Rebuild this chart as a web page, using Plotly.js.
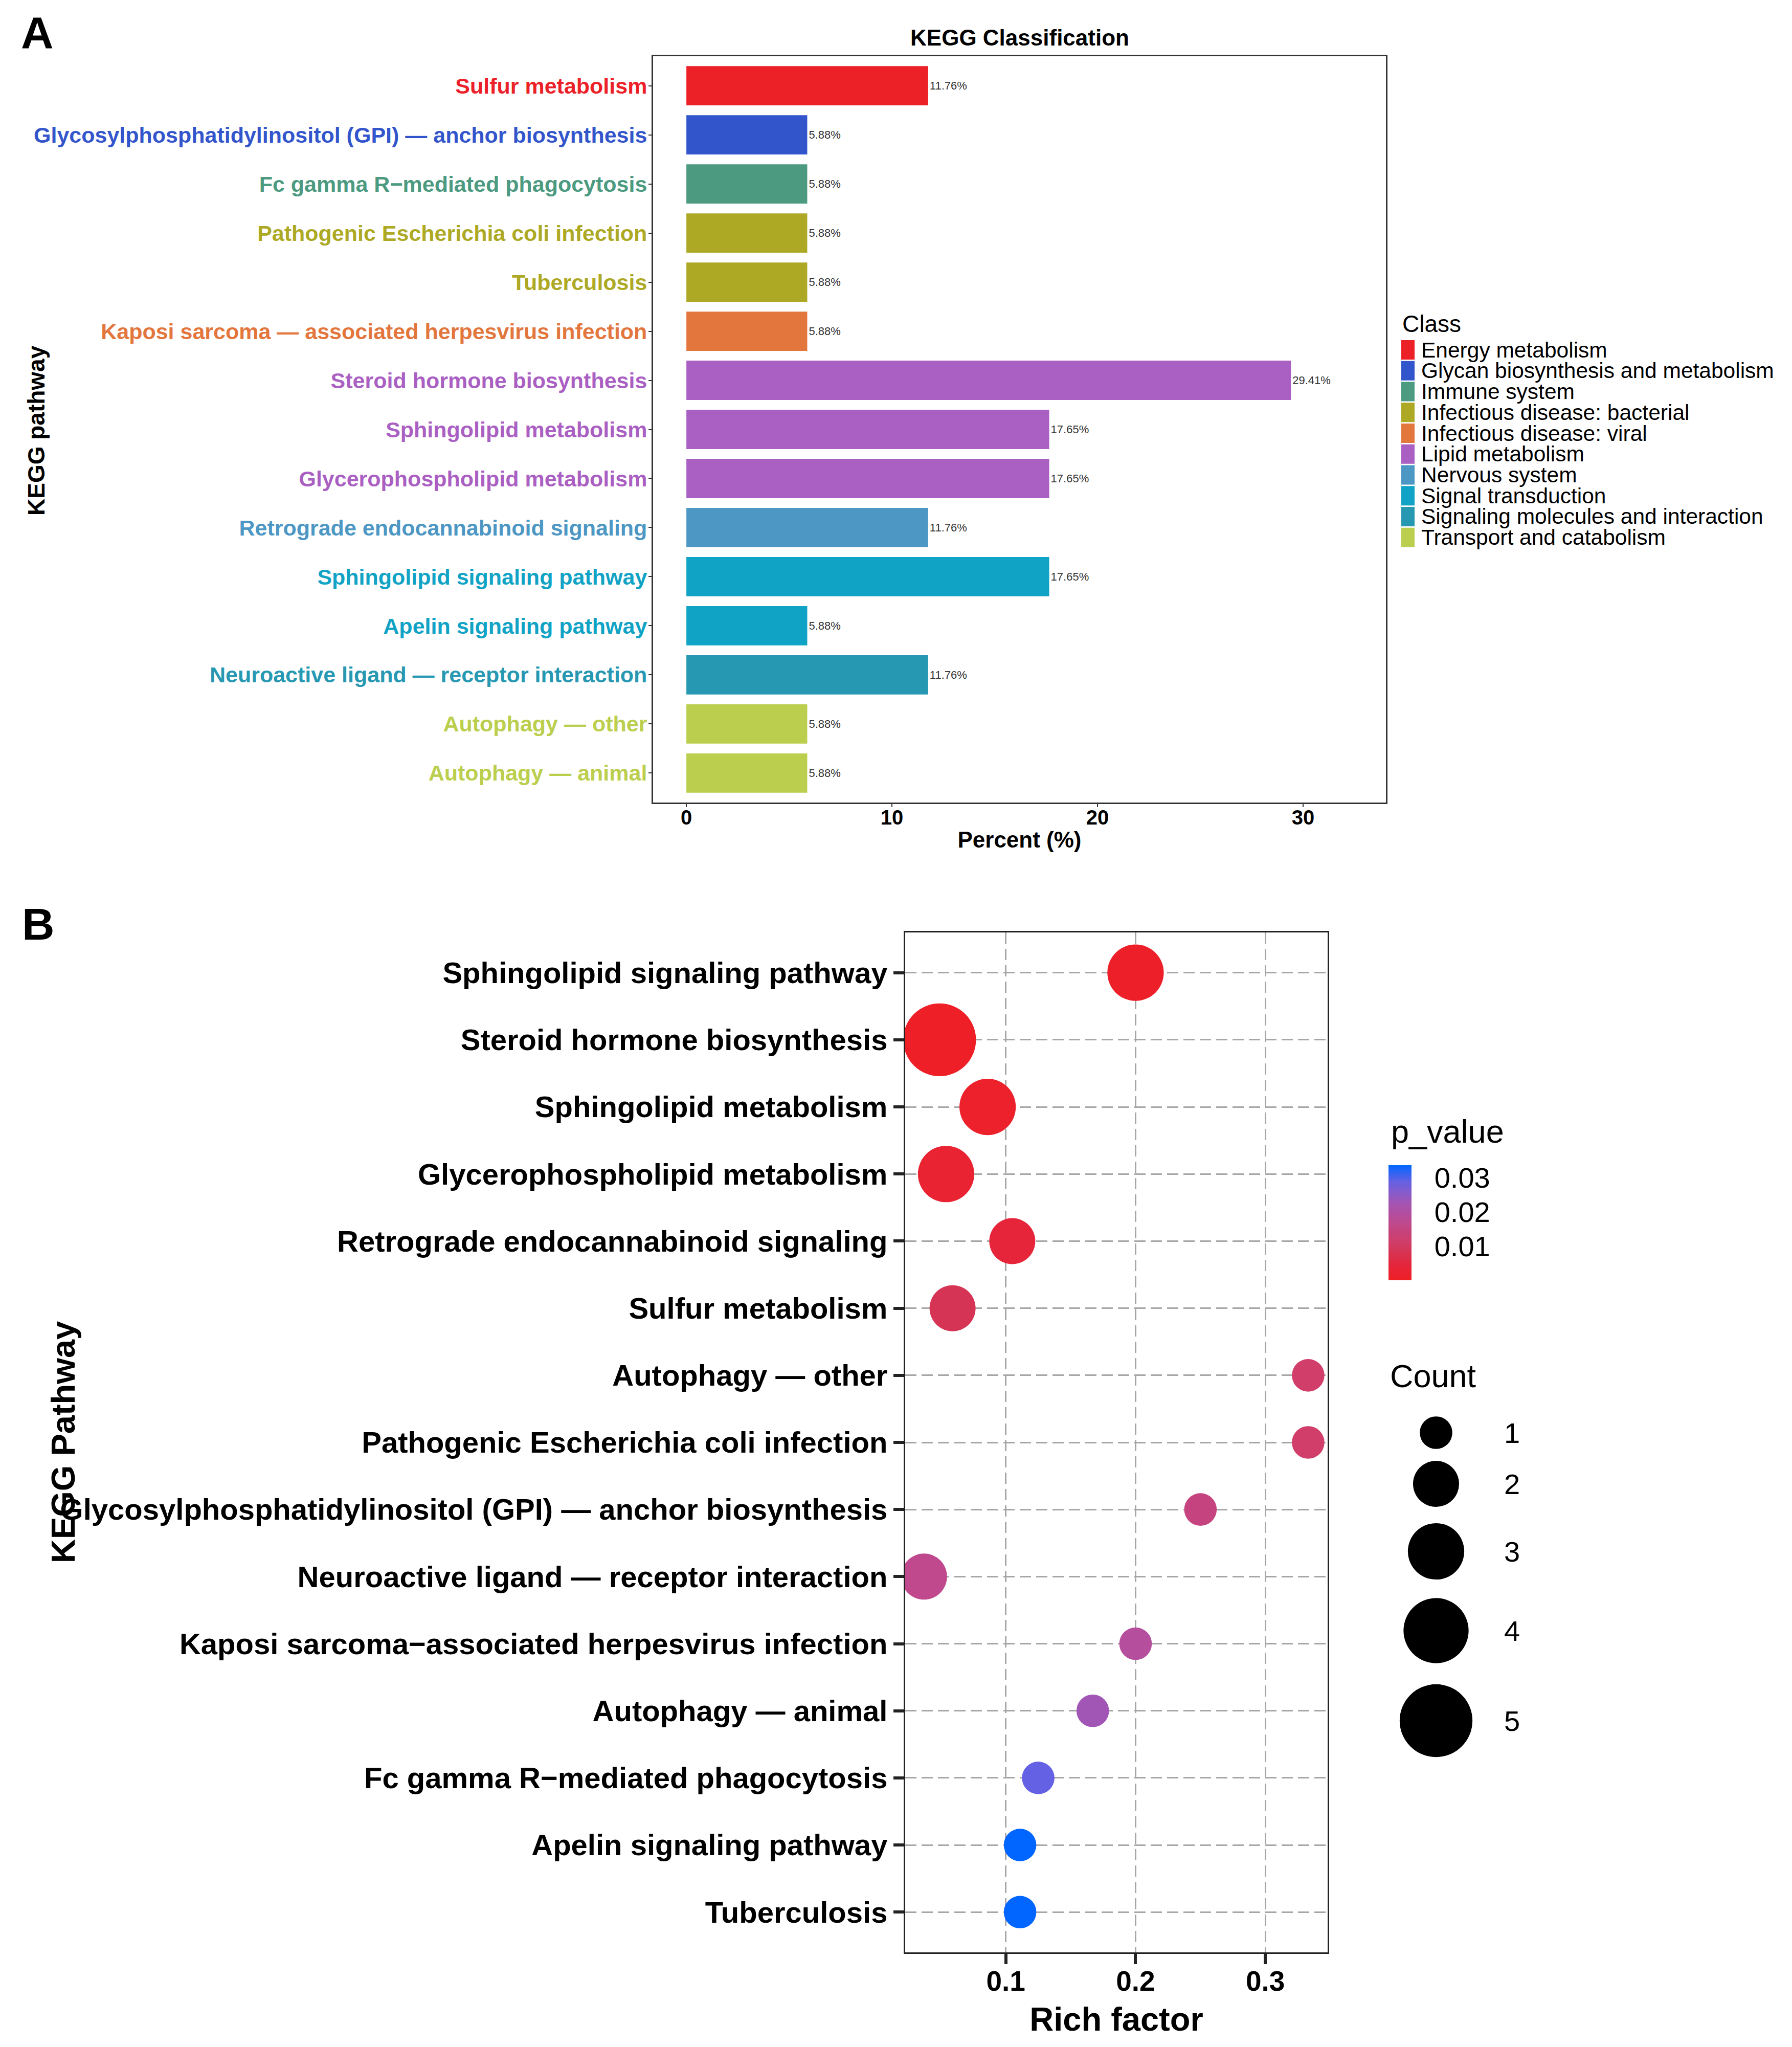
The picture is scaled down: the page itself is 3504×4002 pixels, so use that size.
<!DOCTYPE html>
<html><head><meta charset="utf-8">
<script src="https://cdn.plot.ly/plotly-3.0.1.min.js"></script>
<style>html,body{margin:0;padding:0;background:#fff}</style>
</head><body>
<div id="chart" style="width:3504px;height:4002px"></div>
<script>
// ---------- Panel A data ----------
const pathwaysA = [
  "Sulfur metabolism",
  "Glycosylphosphatidylinositol (GPI) — anchor biosynthesis",
  "Fc gamma R−mediated phagocytosis",
  "Pathogenic Escherichia coli infection",
  "Tuberculosis",
  "Kaposi sarcoma — associated herpesvirus infection",
  "Steroid hormone biosynthesis",
  "Sphingolipid metabolism",
  "Glycerophospholipid metabolism",
  "Retrograde endocannabinoid signaling",
  "Sphingolipid signaling pathway",
  "Apelin signaling pathway",
  "Neuroactive ligand — receptor interaction",
  "Autophagy — other",
  "Autophagy — animal"
];
const classOfPathwayA = [
  "Energy metabolism",
  "Glycan biosynthesis and metabolism",
  "Immune system",
  "Infectious disease: bacterial",
  "Infectious disease: bacterial",
  "Infectious disease: viral",
  "Lipid metabolism",
  "Lipid metabolism",
  "Lipid metabolism",
  "Nervous system",
  "Signal transduction",
  "Signal transduction",
  "Signaling molecules and interaction",
  "Transport and catabolism",
  "Transport and catabolism"
];
const percentA = [11.76, 5.88, 5.88, 5.88, 5.88, 5.88, 29.41, 17.65, 17.65, 11.76, 17.65, 5.88, 11.76, 5.88, 5.88];
const classNames = [
  "Energy metabolism",
  "Glycan biosynthesis and metabolism",
  "Immune system",
  "Infectious disease: bacterial",
  "Infectious disease: viral",
  "Lipid metabolism",
  "Nervous system",
  "Signal transduction",
  "Signaling molecules and interaction",
  "Transport and catabolism"
];
const classColors = ["#EC2027", "#3355CC", "#4C9A80", "#ADA924", "#E3763D", "#AA5FC2", "#4D97C4", "#11A3C5", "#2798B2", "#BBCE4D"];
const percentTicks = [0, 10, 20, 30];

// ---------- Panel B data ----------
const pathwaysB = [
  "Sphingolipid signaling pathway",
  "Steroid hormone biosynthesis",
  "Sphingolipid metabolism",
  "Glycerophospholipid metabolism",
  "Retrograde endocannabinoid signaling",
  "Sulfur metabolism",
  "Autophagy — other",
  "Pathogenic Escherichia coli infection",
  "Glycosylphosphatidylinositol (GPI) — anchor biosynthesis",
  "Neuroactive ligand — receptor interaction",
  "Kaposi sarcoma−associated herpesvirus infection",
  "Autophagy — animal",
  "Fc gamma R−mediated phagocytosis",
  "Apelin signaling pathway",
  "Tuberculosis"
];
const richFactorB = [0.2, 0.049, 0.086, 0.054, 0.105, 0.059, 0.333, 0.333, 0.25, 0.037, 0.2, 0.167, 0.125, 0.111, 0.111];
const countB = [3, 5, 3, 3, 2, 2, 1, 1, 1, 2, 1, 1, 1, 1, 1];
const pValueB = [0.0007, 0.0001, 0.0012, 0.0025, 0.004, 0.0085, 0.011, 0.011, 0.0145, 0.0165, 0.019, 0.023, 0.029, 0.0337, 0.0337];
const richTicks = [0.1, 0.2, 0.3];
const pTicks = [0.01, 0.02, 0.03];
const countLegendValues = [1, 2, 3, 4, 5];

// ---------- layout helpers ----------
const W = 3504, H = 4002;
const px = x => x / W;
const py = y => 1 - y / H;
const FONT = "Liberation Sans, Arial, Helvetica, sans-serif";
const SIZEREF = 2 / 4050;
const bubbleDiameter = c => Math.sqrt(2 * c / SIZEREF);

const colorOf = cls => classColors[classNames.indexOf(cls)];
const barColors = classOfPathwayA.map(colorOf);
const coloredTicks = pathwaysA.map((p, i) => `<span style="color:${barColors[i]}">${p}</span>`);

const pColorscale = [
  [0, "#EE1F25"], [0.12, "#E6253A"], [0.25, "#D63454"], [0.33, "#D03E6A"],
  [0.43, "#C5437E"], [0.5, "#BE4A8E"], [0.57, "#B44E9D"], [0.68, "#A256B5"],
  [0.86, "#6461E4"], [1, "#0066FF"]
];

const traces = [
  {
    type: "bar", orientation: "h",
    x: percentA, y: pathwaysA,
    xaxis: "x", yaxis: "y",
    width: 0.8,
    marker: {color: barColors, line: {width: 0}},
    text: percentA.map(v => v.toFixed(2) + "%"),
    textposition: "outside",
    textfont: {family: FONT, size: 22, color: "#333"},
    constraintext: "none",
    cliponaxis: false,
    showlegend: false,
    hoverinfo: "x+y"
  },
  {
    type: "scatter", mode: "markers",
    x: richFactorB, y: pathwaysB,
    xaxis: "x2", yaxis: "y2",
    marker: {
      size: countB, sizemode: "area", sizeref: SIZEREF,
      color: pValueB, cmin: 0, cmax: 0.0337,
      colorscale: pColorscale,
      line: {width: 0},
      opacity: 1,
      showscale: true,
      colorbar: {
        x: px(2715), xanchor: "left",
        y: py(2390.5), yanchor: "middle",
        len: 225, lenmode: "pixels",
        thickness: 45, thicknessmode: "pixels",
        xpad: 0, ypad: 0,
        outlinewidth: 0,
        tickvals: pTicks,
        ticktext: pTicks.map(v => v.toFixed(2)),
        ticks: "outside", ticklen: 34, tickcolor: "rgba(0,0,0,0)",
        tickfont: {family: FONT, size: 56, color: "#000"}
      }
    },
    showlegend: false
  }
];

const annotations = [
  {text: "A", x: px(73), y: py(63), font: {family: FONT, size: 88, weight: "bold", color: "#000"}},
  {text: "B", x: px(75), y: py(1806), font: {family: FONT, size: 88, weight: "bold", color: "#000"}},
  {text: "KEGG pathway", x: px(71), y: py(842), textangle: -90, font: {family: FONT, size: 46, weight: "bold", color: "#000"}},
  {text: "KEGG Pathway", x: px(123), y: py(2820), textangle: -90, font: {family: FONT, size: 65, weight: "bold", color: "#000"}},
  {text: "Class", x: px(2740), xanchor: "left", y: py(633), font: {family: FONT, size: 46, color: "#000"}},
  {text: "p_value", x: px(2718), xanchor: "left", y: py(2212), font: {family: FONT, size: 63, color: "#000"}},
  {text: "Count", x: px(2716), xanchor: "left", y: py(2690), font: {family: FONT, size: 63, color: "#000"}}
].map(a => Object.assign({xref: "paper", yref: "paper", showarrow: false, xanchor: "center", yanchor: "middle"}, a));

const shapes = [];
const legendRow0 = 684, legendRowStep = 40.75;
classNames.forEach((c, i) => {
  const cy = legendRow0 + i * legendRowStep;
  shapes.push({type: "rect", xref: "paper", yref: "paper",
    x0: px(2740), x1: px(2766), y0: py(cy + 19), y1: py(cy - 19),
    fillcolor: classColors[i], line: {width: 0}});
  annotations.push({xref: "paper", yref: "paper", showarrow: false,
    text: c, x: px(2777), xanchor: "left", y: py(cy), yanchor: "middle",
    font: {family: FONT, size: 42.5, color: "#000"}});
});

const countKeyY = [2801, 2901, 3033, 3188, 3364];
countLegendValues.forEach((c, i) => {
  const r = bubbleDiameter(c) / 2;
  shapes.push({type: "circle", xref: "paper", yref: "paper",
    xsizemode: "pixel", ysizemode: "pixel",
    xanchor: px(2808), yanchor: py(countKeyY[i]),
    x0: -r, x1: r, y0: -r, y1: r,
    fillcolor: "#000", line: {width: 0}});
  annotations.push({xref: "paper", yref: "paper", showarrow: false,
    text: String(c), x: px(2956), xanchor: "center", y: py(countKeyY[i]), yanchor: "middle",
    font: {family: FONT, size: 56, color: "#000"}});
});

const layout = {
  width: W, height: H,
  margin: {l: 0, r: 0, t: 0, b: 0},
  paper_bgcolor: "#fff", plot_bgcolor: "#fff",
  font: {family: FONT, color: "#000"},
  showlegend: false,
  title: {text: "KEGG Classification", x: px(1994), xanchor: "center", y: py(74), yanchor: "middle",
          font: {family: FONT, size: 44, weight: "bold", color: "#000"}},
  xaxis: {
    domain: [px(1277), px(2710)], anchor: "y",
    range: [-1.62, 34.03], tickvals: percentTicks,
    showgrid: false, zeroline: false,
    showline: true, mirror: true, linecolor: "#333", linewidth: 3,
    ticks: "outside", ticklen: 6, tickwidth: 2, tickcolor: "#333",
    ticklabelstandoff: -14,
    tickfont: {family: FONT, size: 40, weight: "bold", color: "#000"},
    title: {text: "Percent (%)", standoff: 8, font: {family: FONT, size: 44, weight: "bold", color: "#000"}}
  },
  yaxis: {
    domain: [py(1569), py(110)], anchor: "x",
    type: "category", categoryorder: "array", categoryarray: pathwaysA,
    range: [14.6, -0.6],
    tickvals: pathwaysA, ticktext: coloredTicks,
    showgrid: false, zeroline: false,
    showline: true, mirror: true, linecolor: "#333", linewidth: 3,
    ticks: "outside", ticklen: 6, tickwidth: 2, tickcolor: "#333",
    ticklabelstandoff: -6,
    tickfont: {family: FONT, size: 43, weight: "bold", color: "#000"}
  },
  xaxis2: {
    domain: [px(1770), px(2596)], anchor: "y2",
    range: [0.0225, 0.348], tickvals: richTicks,
    showgrid: true, gridcolor: "#A6A6A6", gridwidth: 2.5, griddash: "22px,10px",
    zeroline: false,
    showline: true, mirror: true, linecolor: "#222", linewidth: 3,
    ticks: "outside", ticklen: 20, tickwidth: 6, tickcolor: "#222",
    ticklabelstandoff: -14,
    tickfont: {family: FONT, size: 55, weight: "bold", color: "#000"},
    title: {text: "Rich factor", standoff: 22, font: {family: FONT, size: 65, weight: "bold", color: "#000"}}
  },
  yaxis2: {
    domain: [py(3817), py(1823)], anchor: "x2",
    type: "category", categoryorder: "array", categoryarray: pathwaysB,
    range: [14.6, -0.6],
    showgrid: true, gridcolor: "#A6A6A6", gridwidth: 3, griddash: "22px,10px",
    zeroline: false,
    showline: true, mirror: true, linecolor: "#222", linewidth: 3,
    ticks: "outside", ticklen: 20, tickwidth: 6, tickcolor: "#222",
    tickfont: {family: FONT, size: 58, weight: "bold", color: "#000"}
  },
  annotations: annotations,
  shapes: shapes
};

Plotly.newPlot("chart", traces, layout, {displayModeBar: false, responsive: false});
</script>
</body></html>
